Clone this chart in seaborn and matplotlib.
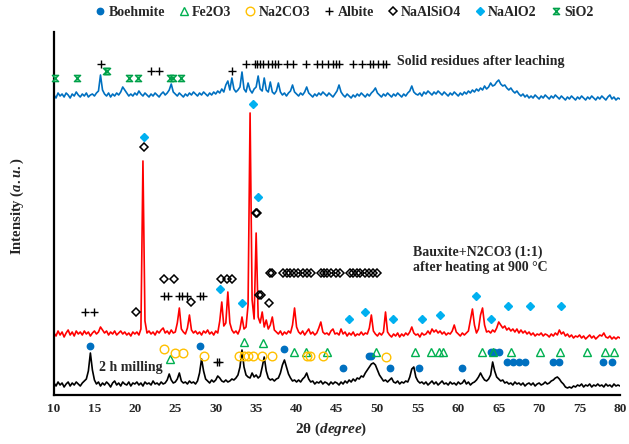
import numpy as np
import matplotlib
matplotlib.use("Agg")
import matplotlib.pyplot as plt
from matplotlib.path import Path
from matplotlib.lines import Line2D
import seaborn as sns

sns.set_theme(style="white")
plt.rcParams.update({
    "font.family": ["Liberation Serif", "DejaVu Serif"],
    "font.weight": "bold",
    "mathtext.fontset": "custom",
    "mathtext.it": "Liberation Serif:bold:italic",
    "mathtext.rm": "Liberation Serif:bold",
})

# 2-theta scan positions (deg), 0.25 deg steps
two_theta = np.linspace(10, 80, 281)

# XRD intensities (a.u.), one row = 5 degrees
milled_2h = [
    12, 9, 13, 10, 12, 8, 11, 13, 9, 12, 10, 13, 11, 9, 12, 14, 16, 24, 42, 25,
    15, 11, 13, 9, 12, 10, 13, 11, 8, 12, 14, 10, 12, 9, 13, 11, 10, 13, 9, 12,
    11, 13, 10, 12, 9, 13, 11, 12, 10, 14, 11, 12, 10, 13, 11, 12, 15, 21, 15, 12,
    13, 16, 22, 14, 12, 13, 11, 14, 12, 13, 11, 14, 22, 36, 24, 16, 14, 12, 15, 13,
    15, 19, 17, 14, 13, 15, 13, 14, 16, 15, 17, 20, 28, 45, 28, 20, 18, 17, 22, 18,
    20, 17, 19, 28, 38, 24, 17, 15, 16, 14, 16, 17, 22, 30, 35, 28, 21, 17, 14, 15,
    13, 15, 13, 16, 18, 22, 16, 13, 14, 11, 13, 12, 14, 11, 13, 12, 10, 13, 11, 13,
    12, 10, 13, 11, 14, 12, 15, 13, 16, 14, 17, 16, 19, 18, 22, 25, 28, 31, 32, 30,
    25, 20, 17, 14, 15, 13, 15, 17, 13, 12, 14, 11, 13, 12, 14, 13, 18, 26, 28, 18,
    14, 12, 13, 11, 13, 10, 12, 14, 11, 13, 10, 12, 14, 11, 12, 10, 13, 11, 12, 10,
    13, 11, 12, 15, 11, 13, 10, 12, 13, 15, 18, 22, 18, 15, 14, 16, 20, 33, 24, 18,
    16, 14, 15, 12, 13, 11, 12, 10, 13, 11, 12, 10, 12, 9, 11, 12, 10, 12, 9, 11,
    12, 10, 11, 13, 11, 12, 14, 15, 17, 18, 16, 13, 11, 8, 7, 8, 7, 9, 8, 10,
    9, 11, 8, 10, 9, 11, 8, 10, 9, 11, 9, 10, 8, 11, 9, 10, 8, 11, 9, 10,
    9,
]
heated_900 = [
    62, 59, 64, 60, 63, 58, 62, 65, 60, 63, 59, 64, 61, 63, 60, 64, 61, 63, 59, 62,
    64, 61, 63, 68, 65, 62, 64, 60, 63, 61, 64, 60, 62, 64, 61, 63, 60, 62, 59, 63,
    61, 63, 60, 66, 234, 74, 62, 64, 61, 63, 60, 64, 62, 65, 67, 62, 64, 61, 65, 62,
    63, 72, 87, 66, 63, 61, 67, 80, 65, 62, 64, 61, 63, 60, 64, 62, 65, 61, 63, 60,
    64, 62, 74, 93, 69, 72, 103, 72, 65, 62, 64, 61, 66, 78, 66, 68, 90, 282, 95, 76,
    162, 78, 72, 83, 68, 75, 66, 70, 78, 65, 63, 61, 64, 60, 63, 61, 64, 62, 70, 87,
    68, 63, 61, 64, 60, 63, 66, 61, 63, 60, 62, 67, 73, 63, 61, 62, 60, 64, 66, 61,
    62, 60, 66, 61, 63, 59, 62, 60, 63, 59, 61, 60, 63, 60, 62, 61, 67, 80, 64, 61,
    59, 62, 60, 63, 83, 63, 60, 58, 61, 59, 62, 58, 61, 59, 62, 60, 63, 68, 62, 60,
    61, 58, 62, 60, 61, 64, 61, 66, 63, 65, 62, 64, 61, 63, 60, 62, 61, 64, 70, 63,
    61, 59, 62, 60, 62, 64, 75, 86, 70, 62, 66, 80, 87, 70, 63, 64, 62, 65, 63, 67,
    73, 70, 67, 69, 65, 67, 64, 66, 63, 66, 62, 65, 62, 64, 61, 63, 60, 62, 59, 61,
    60, 62, 59, 61, 60, 58, 61, 59, 62, 60, 65, 61, 63, 59, 61, 58, 60, 57, 59, 58,
    60, 57, 59, 56, 58, 60, 57, 59, 56, 58, 60, 59, 62, 58, 57, 59, 56, 58, 56, 58,
    57,
]
leached = [
    300, 297, 302, 299, 301, 298, 302, 300, 297, 301, 299, 303, 300, 298, 301, 299, 302, 298, 300, 301,
    299, 302, 304, 320, 305, 301, 299, 302, 298, 301, 299, 302, 300, 303, 308, 305, 302, 299, 301, 299,
    302, 300, 304, 301, 299, 302, 300, 298, 301, 299, 302, 300, 298, 301, 303, 300, 302, 305, 311, 303,
    301, 299, 302, 300, 298, 301, 299, 302, 300, 303, 301, 299, 302, 300, 303, 301, 299, 302, 300, 303,
    301, 304, 302, 306, 303, 310, 314, 305, 317, 306, 303, 305, 308, 323, 306, 303, 312, 305, 302, 306,
    308, 319, 306, 304, 317, 305, 303, 313, 303, 301, 304, 312, 303, 300, 302, 299, 302, 304, 310, 303,
    301, 299, 302, 300, 303, 308, 302, 300, 298, 301, 299, 302, 300, 303, 301, 299, 302, 300, 298, 301,
    304, 310, 303, 300, 298, 301, 299, 297, 300, 298, 301, 299, 302, 300, 298, 301, 299, 302, 304, 307,
    302, 300, 298, 301, 299, 302, 300, 298, 301, 299, 302, 300, 298, 301, 299, 302, 304, 309, 303, 301,
    300, 302, 299, 303, 301, 304, 302, 300, 303, 301, 304, 302, 300, 303, 301, 299, 302, 300, 303, 301,
    299, 302, 300, 303, 301, 304, 302, 305, 303, 306, 304, 307, 305, 309, 306, 308, 312, 309, 310, 313,
    315, 311, 309, 310, 307, 305, 307, 304, 302, 304, 301, 299, 301, 298, 300, 297, 299, 297, 300, 298,
    296, 299, 297, 300, 298, 296, 299, 297, 300, 298, 296, 299, 297, 295, 298, 296, 299, 297, 295, 298,
    296, 299, 297, 295, 298, 296, 299, 297, 295, 298, 296, 299, 297, 295, 298, 300, 296, 298, 295, 297,
    296,
]

# phase identification markers (2-theta, a.u.)
boehmite_x = [14.5, 28.1, 38.4, 45.7, 48.9, 49.2, 51.5, 55.1, 60.5, 64.0, 64.4, 65.0,
              66.05, 66.8, 67.5, 68.3, 71.75, 72.4, 77.85, 79.05]
boehmite_y = [49, 49, 46, 27, 39, 39, 27, 27, 27, 43, 43, 43, 33, 33, 33, 33, 33, 33, 33, 33]

fe2o3_x = [24.3, 33.5, 35.9, 39.7, 41.2, 43.8, 49.8, 54.6, 56.6, 57.65, 58.15, 62.9,
           64.3, 66.5, 70.1, 72.6, 75.9, 78.2, 79.2]
fe2o3_y = [36, 53, 52, 43, 43, 43, 43, 43, 43, 43, 43, 43, 43, 43, 43, 43, 43, 43, 43]

na2co3_x = [23.6, 25.0, 25.9, 28.5, 32.9, 33.5, 34.0, 34.6, 35.7, 37.0, 41.25, 41.65, 43.3, 51.1]
na2co3_y = [46, 42, 42, 39, 39, 39, 39, 39, 39, 39, 39, 39, 39, 38]

albite_x = [30.1, 30.4, 13.8, 14.9, 23.6, 24.1, 25.4, 25.8, 26.4, 28.0, 28.4,
            15.8, 22.0, 23.0, 32.0,
            33.8, 34.85, 35.1, 35.5, 35.9, 36.5, 36.9, 37.3, 37.7, 38.85, 39.5, 41.2,
            42.5, 43.2, 43.9, 44.5, 44.9, 45.3, 47.0, 48.05, 49.1, 49.5, 50.1, 50.75, 51.1]
albite_y = [33, 33, 83, 83, 99, 99, 99, 99, 99, 99, 99,
            331, 324, 324, 324,
            331, 331, 331, 331, 331, 331, 331, 331, 331, 331, 331, 331,
            331, 331, 331, 331, 331, 331, 331, 331, 331, 331, 331, 331, 331]

naalsio4_x = [20.2, 23.6, 24.8, 26.9, 30.7, 31.35, 32.05, 35.3, 35.6, 36.6, 21.1, 34.95, 35.15,
              36.7, 36.9, 38.35, 38.8, 39.2, 39.7, 40.2, 40.8, 41.3, 41.75, 43.0, 43.4,
              43.8, 44.3, 44.9, 45.4, 46.6, 47.0, 47.5, 47.9, 48.5, 48.9, 49.5, 50.0]
naalsio4_y = [83, 116, 116, 93, 116, 116, 116, 100, 100, 92, 248, 182, 182,
              122, 122, 122, 122, 122, 122, 122, 122, 122, 122, 122, 122,
              122, 122, 122, 122, 122, 122, 122, 122, 122, 122, 122, 122]

naalo2_x = [21.1, 34.6, 35.2, 30.5, 33.3, 46.5, 48.5, 51.9, 55.5, 57.8, 62.2, 64.1, 66.1, 68.9, 72.7]
naalo2_y = [258, 291, 198, 106, 92, 76, 83, 76, 76, 80, 99, 76, 89, 89, 89]

sio2_x = [10.1, 12.8, 16.4, 16.6, 19.3, 20.4, 24.3, 24.7, 25.7]
sio2_y = [317, 317, 324, 324, 317, 317, 317, 317, 317]

BLUE = "#0070c0"
RED = "#ff0000"
GREEN = "#00b050"
ORANGE = "#ffc000"
CYAN = "#00b0f0"

hourglass = Path([(-1, 1), (1, 1), (-1, -1), (1, -1), (-1, 1)],
                 [Path.MOVETO, Path.LINETO, Path.LINETO, Path.LINETO, Path.CLOSEPOLY])

phases = [
    ("Boehmite", boehmite_x, boehmite_y,
     dict(marker="o", color=BLUE, markersize=4.6)),
    ("Fe2O3", fe2o3_x, fe2o3_y,
     dict(marker="^", markerfacecolor="none", markeredgecolor=GREEN, markersize=5.8, markeredgewidth=1.0)),
    ("Na2CO3", na2co3_x, na2co3_y,
     dict(marker="o", markerfacecolor="none", markeredgecolor=ORANGE, markersize=6.2, markeredgewidth=1.0)),
    ("Albite", albite_x, albite_y,
     dict(marker="+", color="black", markersize=5.2, markeredgewidth=1.0)),
    ("NaAlSiO4", naalsio4_x, naalsio4_y,
     dict(marker="D", markerfacecolor="none", markeredgecolor="black", markersize=4.2, markeredgewidth=1.1)),
    ("NaAlO2", naalo2_x, naalo2_y,
     dict(marker="D", color=CYAN, markersize=4.4)),
    ("SiO2", sio2_x, sio2_y,
     dict(marker=hourglass, markerfacecolor="#6fd494", markeredgecolor="#00a04a",
          markersize=4.5, markeredgewidth=1.0)),
]

fig = plt.figure(figsize=(6.29, 4.44), dpi=100)
ax = fig.add_axes([54 / 629, 1 - 395 / 444, 566 / 629, 363 / 444])

sns.lineplot(x=two_theta, y=milled_2h, ax=ax, color="black", linewidth=1.2,
             estimator=None, sort=False)
sns.lineplot(x=two_theta, y=heated_900, ax=ax, color=RED, linewidth=1.2,
             estimator=None, sort=False)
sns.lineplot(x=two_theta, y=leached, ax=ax, color=BLUE, linewidth=1.2,
             estimator=None, sort=False)

handles = []
for name, xs, ys, style in phases:
    ax.plot(xs, ys, linestyle="none", clip_on=False, zorder=4, **style)
    handles.append(Line2D([], [], linestyle="none", label=name, **style))

ax.set_xlim(10, 80)
ax.set_ylim(0, 363)
ax.set_xticks(range(10, 81, 5))
ax.set_yticks([])
ax.tick_params(axis="x", length=0, pad=6, labelsize=9.5)
for lbl in ax.get_xticklabels():
    lbl.set_fontweight("bold")

for side in ["top", "right"]:
    ax.spines[side].set_visible(False)
for side in ["left", "bottom"]:
    ax.spines[side].set_color("black")
    ax.spines[side].set_linewidth(1.6)

ax.set_xlabel(r"2θ $\mathit{(degree)}$", fontsize=11, fontweight="bold")
ax.set_ylabel(r"Intensity $\mathit{(a.u.)}$", fontsize=10.5, fontweight="bold")
ax.xaxis.set_label_coords(0.49, -0.072)
ax.yaxis.set_label_coords(-0.05, 0.52)

ax.text(52.4, 334, "Solid residues after leaching", fontsize=10, fontweight="bold",
        ha="left", va="center")
ax.text(54.4, 135, "Bauxite+N2CO3 (1:1)\nafter heating at 900 °C", fontsize=10,
        fontweight="bold", ha="left", va="center", linespacing=1.25)
ax.text(15.6, 28, "2 h milling", fontsize=10, fontweight="bold", ha="left", va="center")

fig.legend(handles=handles, loc="center", bbox_to_anchor=(0.548, 0.972), ncol=7,
           frameon=False, handlelength=0.6, handletextpad=0.3, columnspacing=1.05,
           prop={"weight": "bold", "size": 10})

fig.savefig("out.png", dpi=100)
